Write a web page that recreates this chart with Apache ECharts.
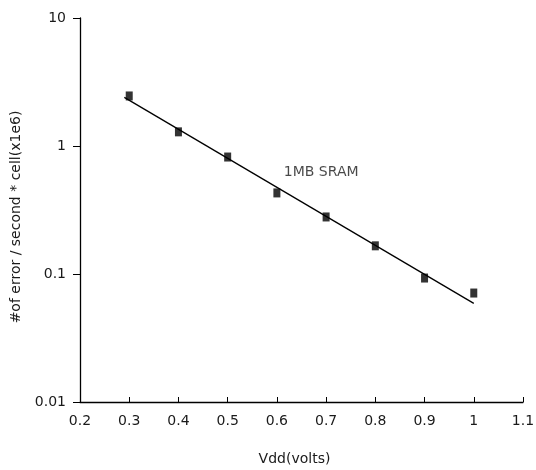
<!DOCTYPE html>
<html>
<head>
<meta charset="utf-8">
<script src="https://cdn.jsdelivr.net/npm/echarts@6/dist/echarts.min.js"></script>
<style>html,body{margin:0;padding:0;background:#fff;}#c{width:536px;height:470px;}</style>
</head>
<body>
<div id="c"></div>
<script>
var vdd = [0.3, 0.4, 0.5, 0.6, 0.7, 0.8, 0.9, 1.0];
var errors = [2.46, 1.29, 0.82, 0.43, 0.279, 0.166, 0.093, 0.071];
var fitX = [0.29, 1.0];
var fitY = [2.4, 0.059];
var seriesLabel = '1MB SRAM';
var labelPoint = [0.69, 0.62];

var chart = echarts.init(document.getElementById('c'));
var font = 'DejaVu Sans, sans-serif';
var tc = '#1a1a1a';
chart.setOption({
  animation: false,
  backgroundColor: '#fff',
  grid: {left: 80, right: 13, top: 18, bottom: 68, containLabel: false, outerBoundsMode: 'none'},
  xAxis: {
    type: 'value', min: 0.2, max: 1.1, interval: 0.1,
    name: 'Vdd(volts)', nameLocation: 'middle', nameGap: 50,
    nameTextStyle: {fontFamily: font, fontSize: 14, color: tc, padding: [0, 14, 0, 0]},
    axisLine: {lineStyle: {color: '#000', width: 1.3}},
    axisTick: {inside: true, length: 5, lineStyle: {color: '#000'}},
    axisLabel: {margin: 12, fontFamily: font, fontSize: 14, color: tc,
      formatter: function (v) { return String(Math.round(v * 10) / 10); }},
    splitLine: {show: false}
  },
  yAxis: {
    type: 'log', logBase: 10, min: 0.01, max: 10,
    name: '#of error / second * cell(x1e6)', nameLocation: 'middle', nameGap: 57,
    nameTextStyle: {fontFamily: font, fontSize: 14, color: tc, padding: [0, 14, 0, 0]},
    axisLine: {show: true, lineStyle: {color: '#000', width: 1.3}},
    axisTick: {show: true, length: 7, lineStyle: {color: '#000'}},
    minorTick: {show: false},
    axisLabel: {margin: 14, fontFamily: font, fontSize: 14, color: tc,
      formatter: function (v) { return String(+v.toPrecision(3)); }},
    splitLine: {show: false}
  },
  series: [
    {
      type: 'line', data: fitX.map(function (x, i) { return [x, fitY[i]]; }),
      symbol: 'none', lineStyle: {color: '#000', width: 1.3}, z: 2
    },
    {
      type: 'scatter', data: vdd.map(function (x, i) { return [x, errors[i]]; }),
      symbol: 'rect', symbolSize: [7, 9], itemStyle: {color: '#000'}, z: 3
    },
    {
      type: 'scatter', data: [labelPoint], symbolSize: 0,
      label: {show: true, formatter: seriesLabel, position: 'inside',
        fontFamily: font, fontSize: 14, color: tc},
      silent: true
    }
  ]
});
</script>
</body>
</html>
